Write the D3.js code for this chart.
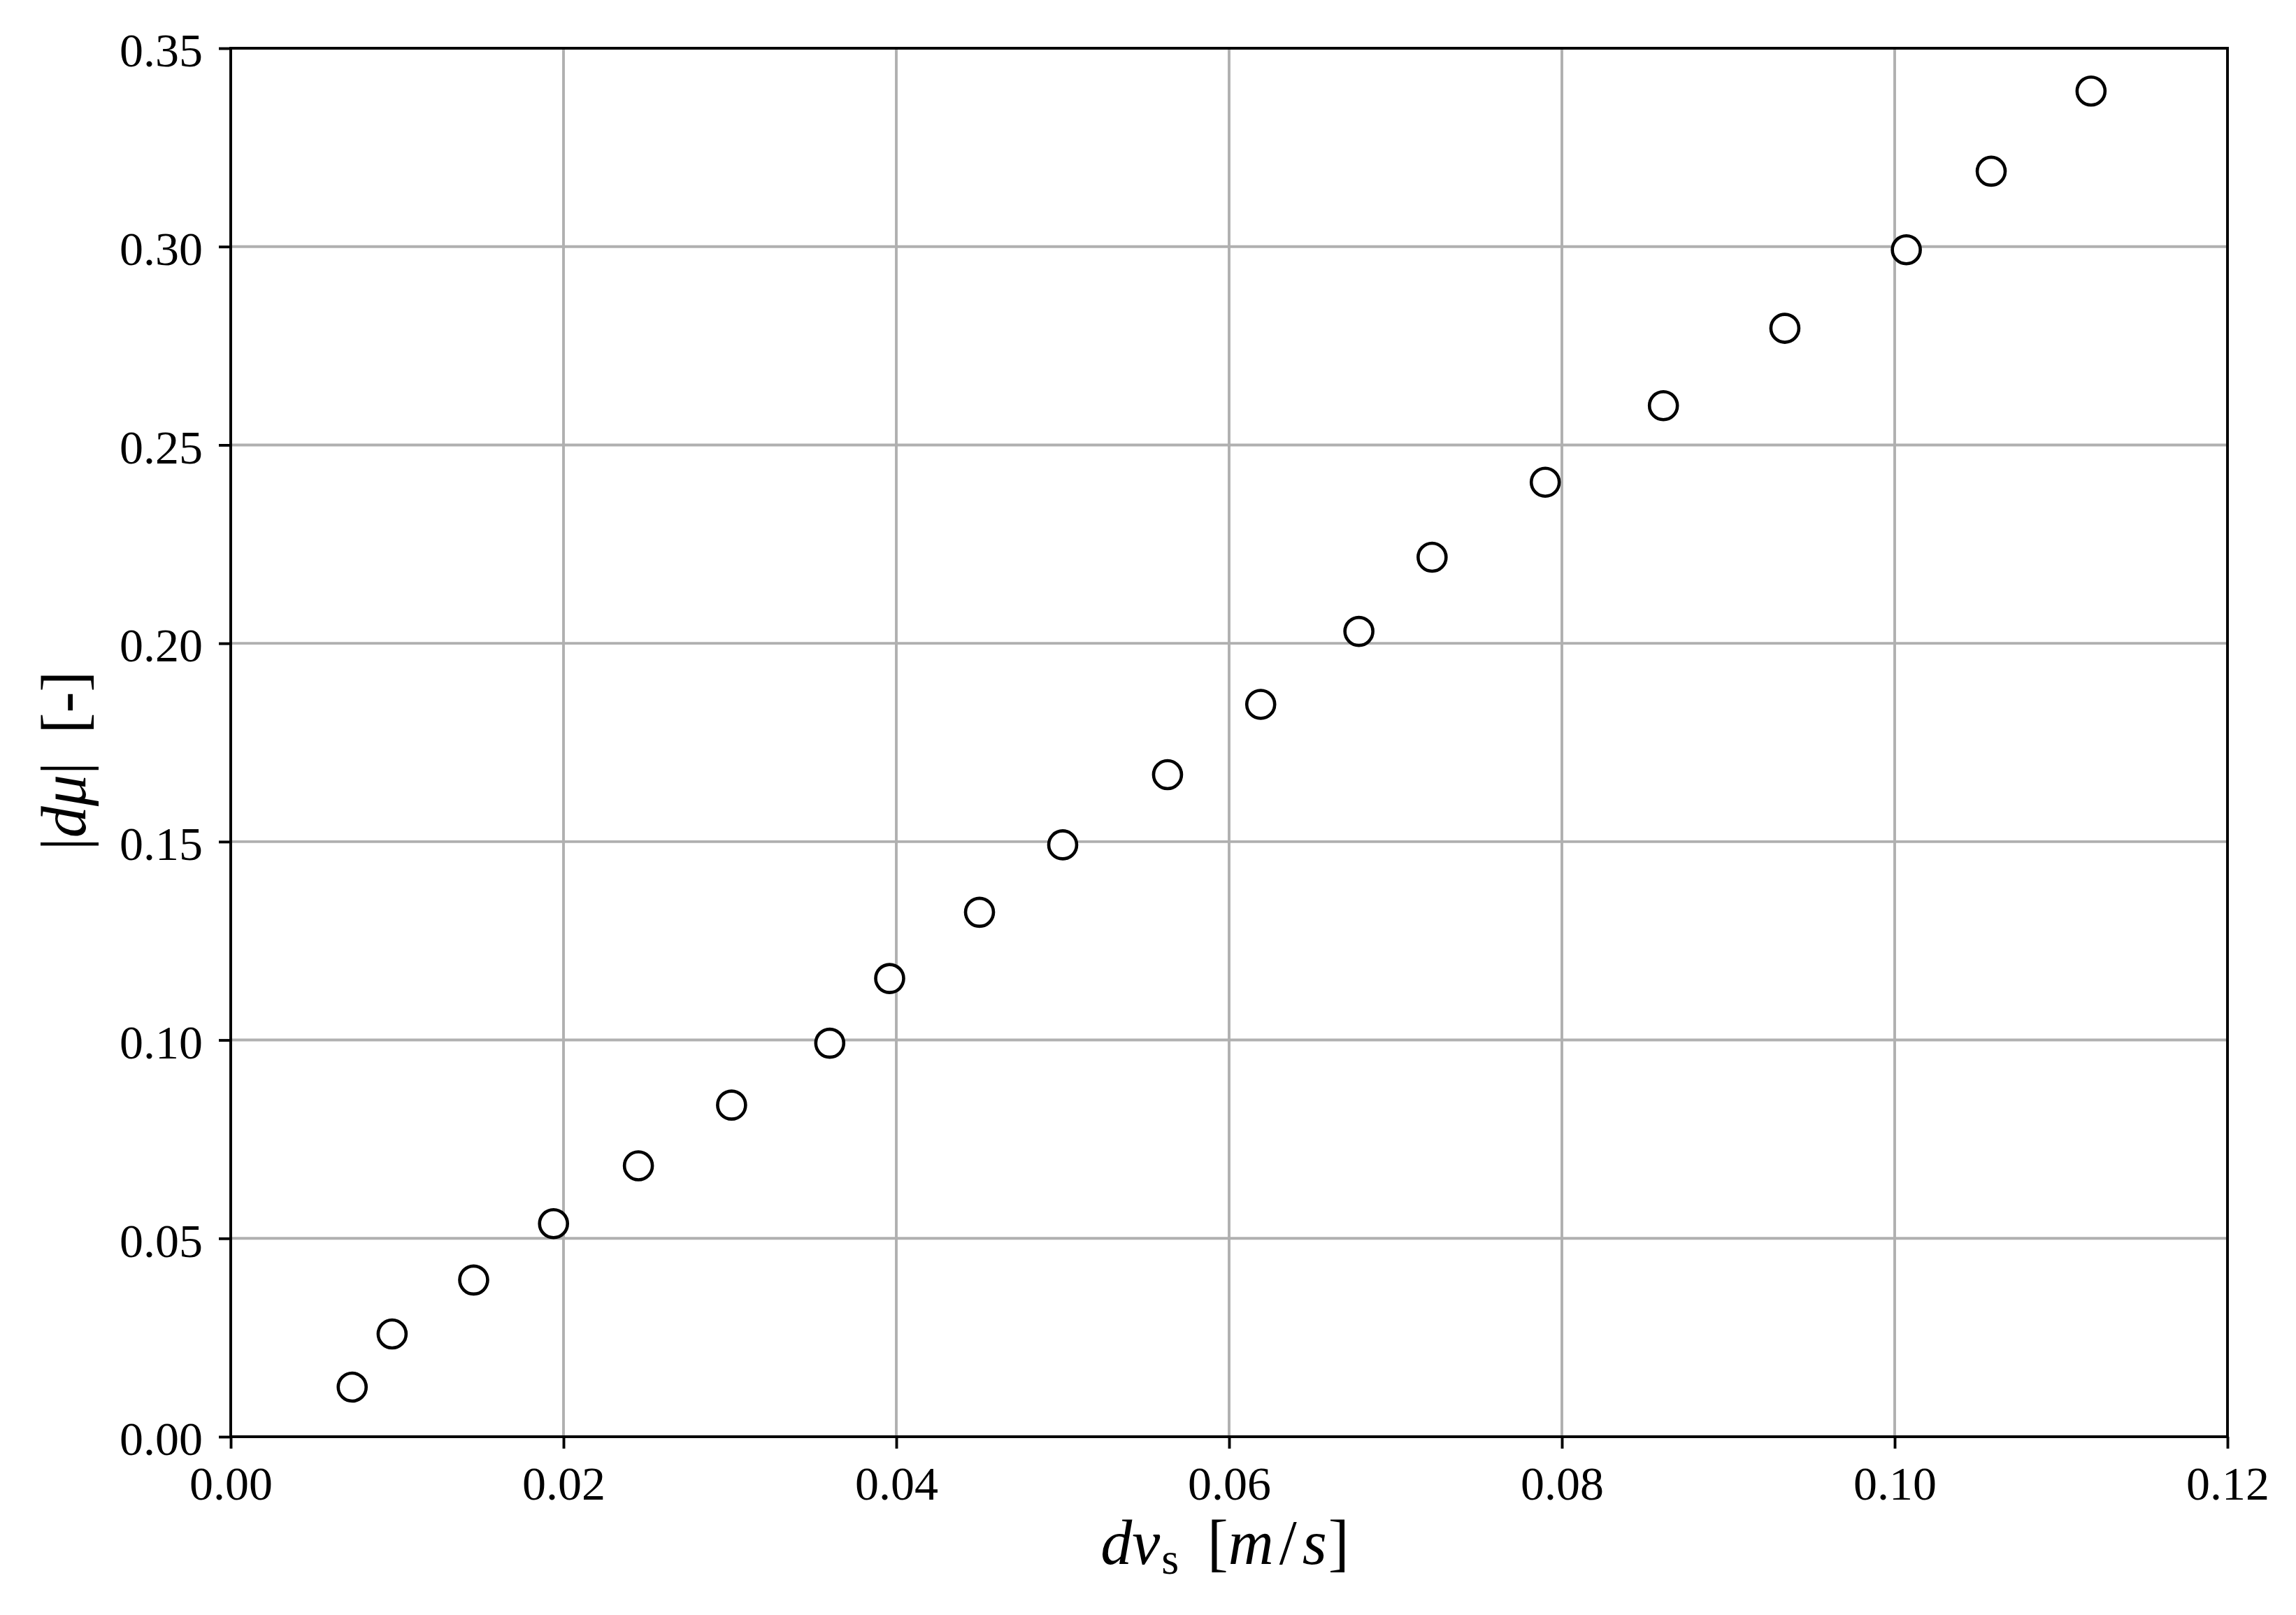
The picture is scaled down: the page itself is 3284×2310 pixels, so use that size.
<!DOCTYPE html>
<html>
<head>
<meta charset="utf-8">
<script src="https://cdn.jsdelivr.net/npm/d3@7"></script>
<style>
  html, body { margin: 0; padding: 0; background: #fff; }
  svg { display: block; }
  text { font-family: "Liberation Serif", "DejaVu Serif", serif; fill: #000; white-space: pre; }
</style>
</head>
<body>
<svg id="chart" width="3284" height="2310"></svg>
<script>
// ---- data ----
const dvs = [0.0073, 0.0097, 0.0146, 0.0194, 0.0245, 0.0301, 0.0360, 0.0396, 0.0450, 0.0500,
             0.0563, 0.0619, 0.0678, 0.0722, 0.0790, 0.0861, 0.0934, 0.1007, 0.1058, 0.1118];
const dmu = [0.0125, 0.0259, 0.0395, 0.0537, 0.0683, 0.0836, 0.0992, 0.1155, 0.1322, 0.1492,
             0.1669, 0.1846, 0.2030, 0.2217, 0.2406, 0.2599, 0.2794, 0.2992, 0.3190, 0.3392];
const xTicks = [0.00, 0.02, 0.04, 0.06, 0.08, 0.10, 0.12];
const yTicks = [0.00, 0.05, 0.10, 0.15, 0.20, 0.25, 0.30, 0.35];
const xDomain = [0, 0.12];
const yDomain = [0, 0.35];

// ---- layout ----
const W = 3284, H = 2310;
const L = 330, R = 3186, T = 69, B = 2055;
const svg = d3.select("#chart");
svg.append("rect").attr("width", W).attr("height", H).attr("fill", "#fff");

const x = d3.scaleLinear().domain(xDomain).range([L, R]);
const y = d3.scaleLinear().domain(yDomain).range([B, T]);
const fmt = d3.format(".2f");

// grid
const grid = svg.append("g");
grid.selectAll("line.gx").data(xTicks).join("line")
  .attr("x1", d => x(d)).attr("x2", d => x(d)).attr("y1", T).attr("y2", B)
  .attr("stroke", "#b0b0b0").attr("stroke-width", 3.9);
grid.selectAll("line.gy").data(yTicks).join("line")
  .attr("y1", d => y(d)).attr("y2", d => y(d)).attr("x1", L).attr("x2", R)
  .attr("stroke", "#b0b0b0").attr("stroke-width", 3.9);

// points
const pts = dvs.map((v, i) => ({x: v, y: dmu[i]}));
svg.append("g").selectAll("circle").data(pts).join("circle")
  .attr("cx", d => x(d.x)).attr("cy", d => y(d.y)).attr("r", 20)
  .attr("fill", "#fff").attr("stroke", "#000").attr("stroke-width", 4.6);

// axes
const xAxis = d3.axisBottom(x).tickValues(xTicks).tickFormat(fmt).tickSize(17).tickPadding(17);
const yAxis = d3.axisLeft(y).tickValues(yTicks).tickFormat(fmt).tickSize(17).tickPadding(17);

const gx = svg.append("g").attr("transform", `translate(0,${B})`).call(xAxis);
const gy = svg.append("g").attr("transform", `translate(${L},0)`).call(yAxis);
[gx, gy].forEach(g => {
  g.select(".domain").remove();
  g.selectAll(".tick line").attr("stroke", "#000").attr("stroke-width", 3.9);
  g.selectAll(".tick text").style("font-family", '"Liberation Serif", serif')
    .attr("font-size", 68).attr("fill", "#000");
});
gx.selectAll(".tick text").attr("dy", "0.83em");
gy.selectAll(".tick text").attr("dy", "0.38em").attr("x", -40);

// frame
svg.append("rect").attr("x", L).attr("y", T).attr("width", R - L).attr("height", B - T)
  .attr("fill", "none").attr("stroke", "#000").attr("stroke-width", 3.9);

// x label: dv_s [m/s]
const xl = svg.append("text").attr("x", (L + R) / 2 - 6).attr("y", 2237)
  .attr("text-anchor", "middle").attr("font-size", 90);
xl.append("tspan").attr("font-style", "italic").text("dv");
xl.append("tspan").attr("font-size", 64).attr("dy", 14).attr("dx", 2).text("s");
xl.append("tspan").attr("dy", -14).text("\u00A0\u2009[");
xl.append("tspan").attr("font-style", "italic").text("m");
xl.append("tspan").attr("dx", 8).text("/");
xl.append("tspan").attr("dx", 8).attr("font-style", "italic").text("s");
xl.append("tspan").attr("dx", 2).text("]");

// y label: |dμ| [-]
const yl = svg.append("text").attr("transform", "translate(122,1088) rotate(-90)")
  .attr("text-anchor", "middle").attr("font-size", 90);
yl.append("tspan").text("|");
yl.append("tspan").attr("font-style", "italic").text("d\u03BC");
yl.append("tspan").text("|\u00A0\u2009[-]");
</script>
</body>
</html>
